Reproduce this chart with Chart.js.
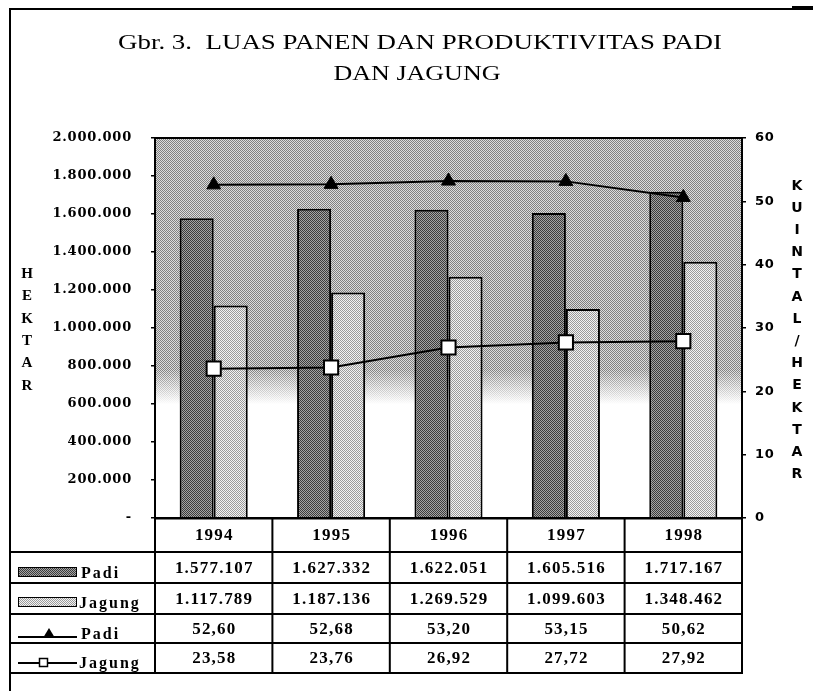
<!DOCTYPE html>
<html>
<head>
<meta charset="utf-8">
<script src="https://cdn.jsdelivr.net/npm/chart.js@4.4.1/dist/chart.umd.min.js"></script>
<style>
  html, body { margin: 0; padding: 0; background: #fff; }
  canvas { display: block; }
</style>
</head>
<body>
<canvas id="chart" width="813" height="691"></canvas>
<script>
// data
const years = ["1994", "1995", "1996", "1997", "1998"];
const luasPadi = [1577107, 1627332, 1622051, 1605516, 1717167];
const luasJagung = [1117789, 1187136, 1269529, 1099603, 1348462];
const prodPadi = [52.60, 52.68, 53.20, 53.15, 50.62];
const prodJagung = [23.58, 23.76, 26.92, 27.72, 27.92];
const hektarTicks = ["-", "200.000", "400.000", "600.000", "800.000", "1.000.000",
  "1.200.000", "1.400.000", "1.600.000", "1.800.000", "2.000.000"];
const kuintalTicks = ["0", "10", "20", "30", "40", "50", "60"];
const titleLines = ["Gbr. 3.  LUAS PANEN DAN PRODUKTIVITAS PADI", "DAN JAGUNG"];
const leftTitle = "HEKTAR";
const rightTitle = "KUINTAL/HEKTAR";

const canvas = document.getElementById("chart");
const ctx = canvas.getContext("2d");

// small halftone patterns to look like the scanned print
function halftone(dark, light) {
  const c = document.createElement("canvas");
  c.width = 2; c.height = 2;
  const g = c.getContext("2d");
  g.fillStyle = light; g.fillRect(0, 0, 2, 2);
  g.fillStyle = dark; g.fillRect(0, 0, 1, 1); g.fillRect(1, 1, 1, 1);
  return ctx.createPattern(c, "repeat");
}
const plotFill = halftone("#808080", "#dcdcdc");
const padiFill = halftone("#3c3c3c", "#a4a4a4");
const jagungFill = halftone("#9a9a9a", "#f2f2f2");

function fmtInt(v) {
  return String(v).replace(/\B(?=(\d{3})+(?!\d))/g, ".");
}
function fmtDec(v) {
  return v.toFixed(2).replace(".", ",");
}

// stretch a line of text horizontally so it fills the given width
function wideText(c, text, cx, y, target) {
  const w = c.measureText(text).width;
  c.save();
  c.translate(cx, y);
  c.scale(target / w, 1);
  c.fillText(text, 0, 0);
  c.restore();
}

const paperPlugin = {
  id: "paper",
  beforeDraw(chart) {
    const c = chart.ctx;
    const a = chart.chartArea;
    const yL = chart.scales.yL;
    c.save();
    c.fillStyle = "#fff";
    c.fillRect(0, 0, chart.width, chart.height);
    // shaded plot background fading out toward the bottom
    const fadeStart = yL.getPixelForValue(780000);
    const fadeEnd = yL.getPixelForValue(600000);
    c.fillStyle = plotFill;
    c.fillRect(a.left, a.top, a.right - a.left, fadeEnd - a.top);
    const gr = c.createLinearGradient(0, fadeStart, 0, fadeEnd);
    gr.addColorStop(0, "rgba(255,255,255,0)");
    gr.addColorStop(1, "rgba(255,255,255,1)");
    c.fillStyle = gr;
    c.fillRect(a.left, fadeStart, a.right - a.left, fadeEnd - fadeStart);
    // top line of the plot
    c.fillStyle = "#000";
    c.fillRect(a.left, a.top - 1, a.right - a.left, 2);
    // page frame
    c.fillRect(9, 8, chart.width - 9, 2);
    c.fillRect(9, 8, 2, chart.height - 8);
    c.fillRect(792, 6, 21, 4);
    c.restore();
    // wider lettering for the tick labels
    c.letterSpacing = "0.8px";
  },
  afterDraw(chart) {
    const c = chart.ctx;
    const a = chart.chartArea;
    c.save();
    c.letterSpacing = "0px";
    c.fillStyle = "#000";
    c.textBaseline = "alphabetic";
    c.textAlign = "center";

    // title
    c.font = "22px 'Liberation Serif', serif";
    wideText(c, titleLines[0], 420, 49, 604);
    wideText(c, titleLines[1], 417, 80, 167);

    // vertical axis titles
    c.textBaseline = "middle";
    c.font = "bold 15px 'Liberation Serif', serif";
    for (let i = 0; i < leftTitle.length; i++) {
      c.fillText(leftTitle[i], 27, 274 + i * 22.4);
    }
    c.font = "bold 14px 'DejaVu Sans', sans-serif";
    for (let i = 0; i < rightTitle.length; i++) {
      c.fillText(rightTitle[i], 797, 186 + i * 22.2);
    }

    // data table under the plot
    const xs = chart.scales.x;
    const cw = (a.right - a.left) / years.length;
    const rows = [a.bottom, a.bottom + 34, a.bottom + 65, a.bottom + 96, a.bottom + 125, a.bottom + 155];
    c.fillStyle = "#000";
    c.fillRect(a.left - 1, a.bottom - 1, a.right - a.left + 2, 2.5);
    for (let r = 1; r < rows.length; r++) {
      c.fillRect(10, rows[r] - 1, a.right - 10 + 1, 2);
    }
    for (let i = 0; i <= years.length; i++) {
      c.fillRect(a.left + i * cw - 1, rows[0], 2, rows[5] - rows[0]);
    }

    const cells = [
      years,
      luasPadi.map(fmtInt),
      luasJagung.map(fmtInt),
      prodPadi.map(fmtDec),
      prodJagung.map(fmtDec)
    ];
    c.font = "bold 17px 'Liberation Serif', serif";
    c.letterSpacing = "1.2px";
    c.textBaseline = "middle";
    for (let r = 0; r < cells.length; r++) {
      const cy = (rows[r] + rows[r + 1]) / 2 + 1;
      cells[r].forEach((t, i) => {
        c.fillText(t, xs.getPixelForValue(i) + 0.6, cy);
      });
    }

    // row keys
    c.textAlign = "left";
    c.font = "bold 16px 'Liberation Serif', serif";
    c.letterSpacing = "2px";
    c.textBaseline = "alphabetic";
    // bar keys
    c.fillStyle = padiFill;
    c.fillRect(18, 567, 59, 10);
    c.strokeStyle = "#000";
    c.lineWidth = 1;
    c.strokeRect(18.5, 567.5, 58, 9);
    c.fillStyle = jagungFill;
    c.fillRect(18, 597, 59, 10);
    c.strokeRect(18.5, 597.5, 58, 9);
    c.fillStyle = "#000";
    c.fillText("Padi", 81, 578);
    c.fillText("Jagung", 79, 608);
    // line keys
    c.fillRect(18, 636, 59, 2);
    c.beginPath();
    c.moveTo(49, 628); c.lineTo(55, 638); c.lineTo(43, 638); c.closePath();
    c.fill();
    c.fillText("Padi", 81, 639);
    c.fillRect(18, 662, 59, 2);
    c.fillStyle = "#fff";
    c.fillRect(39, 658, 9, 9);
    c.lineWidth = 1.5;
    c.strokeRect(39.5, 658.5, 8, 8);
    c.fillStyle = "#000";
    c.fillText("Jagung", 79, 668);
    c.restore();
  }
};

new Chart(ctx, {
  type: "bar",
  data: {
    labels: years,
    datasets: [
      {
        type: "line",
        label: "Padi (kw/ha)",
        data: prodPadi,
        yAxisID: "yR",
        borderColor: "#000",
        borderWidth: 2,
        pointStyle: "triangle",
        pointRadius: 8,
        pointBackgroundColor: "#000",
        pointBorderColor: "#000",
        pointBorderWidth: 1,
        order: 0
      },
      {
        type: "line",
        label: "Jagung (kw/ha)",
        data: prodJagung,
        yAxisID: "yR",
        borderColor: "#000",
        borderWidth: 2,
        pointStyle: "rect",
        pointRadius: 10,
        pointBackgroundColor: "#fff",
        pointBorderColor: "#000",
        pointBorderWidth: 2,
        order: 0
      },
      {
        label: "Padi",
        data: luasPadi,
        yAxisID: "yL",
        backgroundColor: padiFill,
        borderColor: "#000",
        borderWidth: 2,
        categoryPercentage: 0.58,
        barPercentage: 1,
        order: 1
      },
      {
        label: "Jagung",
        data: luasJagung,
        yAxisID: "yL",
        backgroundColor: jagungFill,
        borderColor: "#000",
        borderWidth: 2,
        categoryPercentage: 0.58,
        barPercentage: 1,
        order: 1
      }
    ]
  },
  options: {
    responsive: false,
    animation: false,
    devicePixelRatio: 1,
    layout: { padding: { left: 10, right: 0, top: 138, bottom: 173 } },
    plugins: {
      legend: { display: false },
      tooltip: { enabled: false },
      title: { display: false }
    },
    scales: {
      x: { display: false, offset: true },
      yL: {
        position: "left",
        min: 0,
        max: 2000000,
        ticks: {
          stepSize: 200000,
          callback: (v, i) => hektarTicks[i],
          color: "#000",
          padding: 19,
          font: { family: "'DejaVu Serif', serif", size: 13, weight: "bold" }
        },
        grid: { drawOnChartArea: false, tickLength: 4, color: "#000", lineWidth: 1.5 },
        border: { color: "#000", width: 2 },
        afterFit: s => { s.width = 145; }
      },
      yR: {
        position: "right",
        min: 0,
        max: 60,
        ticks: {
          stepSize: 10,
          callback: (v, i) => kuintalTicks[i],
          color: "#000",
          padding: 9,
          font: { family: "'DejaVu Sans', sans-serif", size: 13, weight: "bold" }
        },
        grid: { drawOnChartArea: false, tickLength: 4, color: "#000", lineWidth: 1.5 },
        border: { color: "#000", width: 2 },
        afterFit: s => { s.width = 71; }
      }
    }
  },
  plugins: [paperPlugin]
});
</script>
</body>
</html>
